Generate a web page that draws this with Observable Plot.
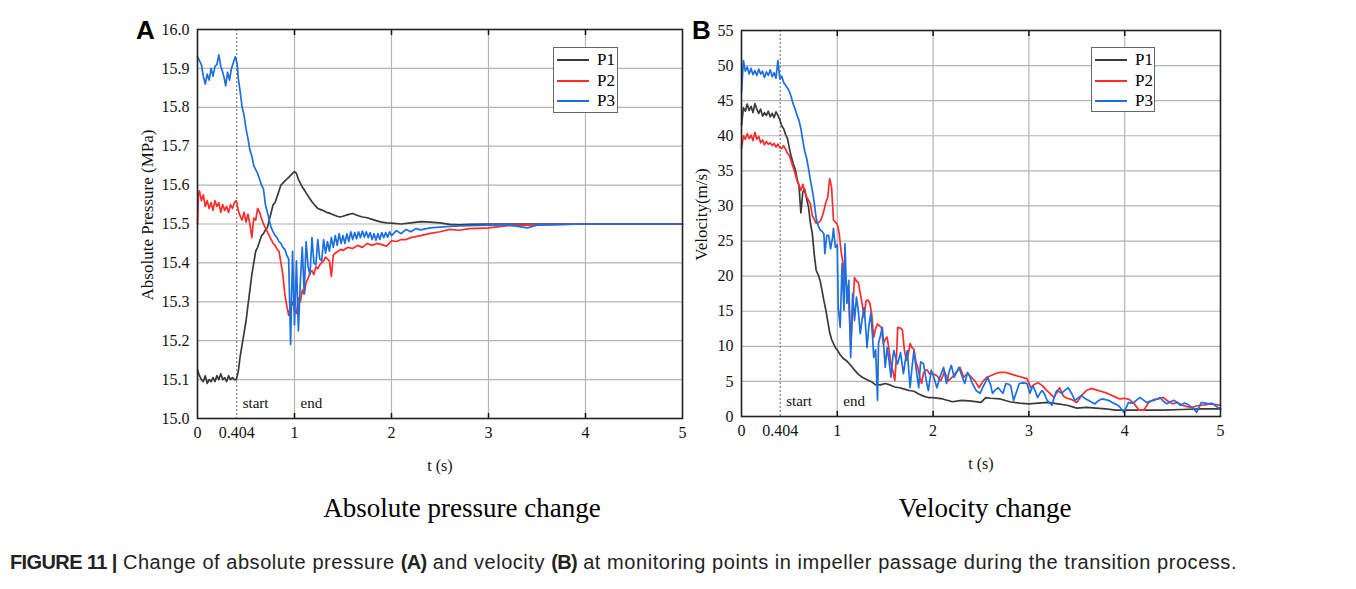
<!DOCTYPE html>
<html>
<head>
<meta charset="utf-8">
<script src="https://cdn.jsdelivr.net/npm/d3@7"></script>
<script src="https://cdn.jsdelivr.net/npm/@observablehq/plot@0.6"></script>
<style>
  html, body { margin: 0; padding: 0; background: #fff; }
  #page { position: relative; width: 1356px; height: 589px; overflow: hidden; font-family: "Liberation Serif", serif; }
  .abs { position: absolute; }
  .letter { font-family: "Liberation Sans", Arial, sans-serif; font-weight: bold; font-size: 26px; }
  .sub { font-family: "Liberation Serif", serif; font-size: 27px; text-align: center; width: 500px; }
  .legend { border: 1px solid #666; background: #fff; font-family: "Liberation Serif", serif; font-size: 17px; box-sizing: border-box; }
  .legend .row { position: absolute; left: 0; height: 20px; line-height: 20px; }
  .legend .sw { position: absolute; left: 3px; top: 9px; width: 32px; height: 0; border-top: 2px solid; }
  .legend .lab { position: absolute; left: 43px; top: 0; }
  .caption { font-family: "Liberation Sans", Arial, sans-serif; font-size: 20px; letter-spacing: 0.55px; color: #222; white-space: nowrap; }
  .caption b { letter-spacing: -0.6px; }
</style>
</head>
<body>
<div id="page">
  <div id="panelA" class="abs" style="left:0;top:0;"></div>
  <div id="panelB" class="abs" style="left:690px;top:0;"></div>
  <div class="abs letter" style="left:136px;top:15px;">A</div>
  <div class="abs letter" style="left:692px;top:15px;">B</div>
  <div class="abs sub" style="left:212px;top:493px;">Absolute pressure change</div>
  <div class="abs sub" style="left:735px;top:493px;">Velocity change</div>
  <div id="legendA" class="abs legend" style="left:553px;top:47px;width:65px;height:66px;"></div>
  <div id="legendB" class="abs legend" style="left:1091px;top:47px;width:64px;height:65px;"></div>
  <div class="abs caption" style="left:10px;top:551px;"><b>FIGURE 11 |</b> Change of absolute pressure <b>(A)</b> and velocity <b>(B)</b> at monitoring points in impeller passage during the transition process.</div>
</div>
<script>
// ---------------- data ----------------
const seriesNames = ["P1", "P2", "P3"];
const seriesColors = ["#3a3a3a", "#ff2b2b", "#1c6fe0"];

const xTickValues = [0, 0.404, 1, 2, 3, 4, 5];
const xTickLabels = ["0", "0.404", "1", "2", "3", "4", "5"];
const xGridValues = [1, 2, 3, 4];
const eventTimes = [0.404, 1];
const eventLabels = ["start", "end"];

const pressureTicks = [15.0, 15.1, 15.2, 15.3, 15.4, 15.5, 15.6, 15.7, 15.8, 15.9, 16.0];
const velocityTicks = [0, 5, 10, 15, 20, 25, 30, 35, 40, 45, 50, 55];

// Panel A – absolute pressure (MPa), [t (s), value]
const pressureP1 = [[0,15.125],[0.02,15.11],[0.04,15.1],[0.06,15.095],[0.08,15.11],[0.1,15.09],[0.12,15.1],[0.14,15.095],[0.16,15.105],[0.18,15.095],[0.2,15.11],[0.22,15.1],[0.24,15.115],[0.26,15.1],[0.28,15.105],[0.3,15.095],[0.32,15.11],[0.34,15.1],[0.36,15.105],[0.38,15.1],[0.4,15.1],[0.42,15.12],[0.44,15.16],[0.46,15.19],[0.48,15.22],[0.5,15.25],[0.52,15.29],[0.54,15.33],[0.56,15.37],[0.58,15.4],[0.6,15.43],[0.62,15.44],[0.64,15.455],[0.66,15.47],[0.68,15.475],[0.7,15.485],[0.72,15.49],[0.74,15.51],[0.76,15.53],[0.78,15.55],[0.8,15.555],[0.82,15.57],[0.84,15.585],[0.86,15.6],[0.88,15.605],[0.9,15.61],[0.92,15.615],[0.94,15.62],[0.96,15.625],[0.98,15.63],[1.0,15.635],[1.02,15.63],[1.04,15.615],[1.06,15.605],[1.08,15.595],[1.1,15.588],[1.12,15.58],[1.15,15.568],[1.18,15.557],[1.21,15.548],[1.24,15.54],[1.27,15.537],[1.3,15.534],[1.33,15.53],[1.36,15.528],[1.4,15.524],[1.44,15.52],[1.47,15.518],[1.5,15.52],[1.55,15.524],[1.6,15.527],[1.65,15.522],[1.7,15.518],[1.75,15.516],[1.8,15.512],[1.85,15.508],[1.9,15.505],[1.95,15.503],[2.0,15.502],[2.1,15.5],[2.2,15.503],[2.3,15.506],[2.4,15.505],[2.5,15.503],[2.6,15.499],[2.7,15.498],[2.8,15.499],[3.0,15.5],[3.5,15.5],[4.0,15.5],[4.5,15.5],[5.0,15.5]];
const pressureP2 = [[0,15.5],[0.01,15.58],[0.02,15.585],[0.04,15.56],[0.06,15.575],[0.08,15.545],[0.1,15.56],[0.12,15.54],[0.14,15.555],[0.16,15.535],[0.18,15.56],[0.2,15.545],[0.22,15.555],[0.24,15.53],[0.26,15.55],[0.28,15.535],[0.3,15.545],[0.32,15.53],[0.34,15.55],[0.36,15.54],[0.38,15.555],[0.4,15.56],[0.42,15.535],[0.44,15.52],[0.46,15.51],[0.48,15.53],[0.5,15.505],[0.52,15.525],[0.54,15.5],[0.56,15.465],[0.58,15.515],[0.6,15.51],[0.62,15.54],[0.64,15.53],[0.66,15.515],[0.68,15.5],[0.7,15.49],[0.72,15.48],[0.74,15.47],[0.76,15.46],[0.78,15.45],[0.8,15.445],[0.82,15.435],[0.84,15.43],[0.86,15.4],[0.88,15.37],[0.9,15.32],[0.92,15.29],[0.94,15.265],[0.96,15.29],[0.98,15.3],[1.0,15.28],[1.02,15.27],[1.04,15.31],[1.06,15.3],[1.08,15.33],[1.1,15.32],[1.12,15.35],[1.14,15.36],[1.16,15.375],[1.18,15.38],[1.2,15.37],[1.22,15.39],[1.24,15.385],[1.26,15.395],[1.28,15.4],[1.3,15.405],[1.32,15.415],[1.34,15.41],[1.36,15.405],[1.38,15.365],[1.4,15.42],[1.42,15.425],[1.45,15.43],[1.48,15.435],[1.5,15.432],[1.55,15.44],[1.6,15.437],[1.65,15.445],[1.7,15.44],[1.75,15.45],[1.8,15.445],[1.85,15.45],[1.9,15.447],[1.95,15.443],[2.0,15.457],[2.05,15.455],[2.1,15.46],[2.15,15.46],[2.2,15.465],[2.3,15.47],[2.4,15.476],[2.5,15.48],[2.6,15.486],[2.7,15.484],[2.8,15.488],[2.9,15.489],[3.0,15.49],[3.2,15.496],[3.5,15.498],[4.0,15.5],[4.5,15.5],[5.0,15.5]];
const pressureP3 = [[0,15.93],[0.02,15.92],[0.04,15.91],[0.06,15.88],[0.08,15.86],[0.1,15.885],[0.12,15.87],[0.14,15.9],[0.16,15.88],[0.18,15.905],[0.2,15.91],[0.22,15.935],[0.24,15.905],[0.26,15.89],[0.28,15.87],[0.29,15.855],[0.31,15.89],[0.33,15.87],[0.35,15.9],[0.37,15.915],[0.39,15.93],[0.41,15.91],[0.42,15.875],[0.44,15.84],[0.46,15.8],[0.48,15.78],[0.5,15.745],[0.52,15.72],[0.54,15.69],[0.56,15.675],[0.58,15.65],[0.6,15.64],[0.62,15.63],[0.64,15.615],[0.66,15.6],[0.68,15.59],[0.7,15.55],[0.72,15.53],[0.74,15.51],[0.76,15.49],[0.78,15.48],[0.8,15.47],[0.82,15.465],[0.84,15.455],[0.86,15.45],[0.88,15.44],[0.9,15.435],[0.92,15.42],[0.94,15.41],[0.96,15.19],[0.98,15.43],[1.0,15.24],[1.02,15.405],[1.04,15.225],[1.06,15.35],[1.08,15.44],[1.1,15.32],[1.12,15.455],[1.14,15.39],[1.16,15.37],[1.18,15.465],[1.2,15.4],[1.22,15.395],[1.24,15.46],[1.26,15.41],[1.28,15.405],[1.3,15.46],[1.32,15.425],[1.34,15.455],[1.36,15.43],[1.38,15.465],[1.4,15.44],[1.42,15.47],[1.44,15.445],[1.46,15.475],[1.48,15.45],[1.5,15.47],[1.52,15.45],[1.54,15.475],[1.56,15.455],[1.58,15.48],[1.6,15.46],[1.62,15.478],[1.64,15.462],[1.66,15.48],[1.68,15.465],[1.7,15.482],[1.72,15.466],[1.74,15.48],[1.76,15.465],[1.78,15.478],[1.8,15.46],[1.82,15.475],[1.84,15.458],[1.86,15.475],[1.88,15.46],[1.9,15.478],[1.92,15.465],[1.94,15.478],[1.96,15.466],[1.98,15.48],[2.0,15.47],[2.05,15.483],[2.1,15.475],[2.15,15.486],[2.2,15.48],[2.25,15.488],[2.3,15.485],[2.4,15.49],[2.5,15.492],[2.6,15.494],[2.7,15.495],[2.8,15.496],[3.0,15.497],[3.2,15.498],[3.4,15.49],[3.5,15.497],[3.8,15.499],[4.0,15.5],[4.5,15.5],[5.0,15.5]];

// Panel B – velocity (m/s), [t (s), value]
const velocityP1 = [[0,41.5],[0.02,44],[0.04,43.5],[0.06,44.5],[0.08,43.6],[0.1,44.2],[0.12,43.3],[0.14,44.6],[0.16,43.8],[0.18,43.2],[0.2,43.8],[0.22,42.8],[0.24,43.3],[0.26,42.9],[0.28,43.5],[0.3,42.7],[0.32,43.2],[0.34,42.6],[0.36,43.4],[0.38,42.9],[0.4,42.3],[0.42,41.4],[0.44,41],[0.46,40.2],[0.48,39.6],[0.5,38.2],[0.52,37],[0.54,36],[0.56,35.3],[0.58,33.9],[0.6,32.8],[0.62,29],[0.64,32],[0.66,32.4],[0.68,31],[0.7,29.8],[0.72,27.5],[0.74,26],[0.76,23],[0.78,20.8],[0.8,20.2],[0.82,19.4],[0.84,18],[0.86,16.5],[0.88,15.2],[0.9,13.6],[0.92,12],[0.94,11],[0.96,10.4],[0.98,9.8],[1.0,9.5],[1.03,8.8],[1.06,8.3],[1.1,7.9],[1.14,7.3],[1.18,6.6],[1.22,6.0],[1.26,5.6],[1.3,5.3],[1.35,5.0],[1.4,4.5],[1.45,4.5],[1.5,4.7],[1.55,4.5],[1.6,4.2],[1.65,4.1],[1.7,3.9],[1.75,3.7],[1.8,3.6],[1.85,3.2],[1.9,2.9],[1.95,2.7],[2.0,2.7],[2.1,2.5],[2.2,2.1],[2.3,2.3],[2.4,2.2],[2.5,2.0],[2.55,2.7],[2.6,2.6],[2.7,2.5],[2.8,2.1],[2.9,1.9],[3.0,1.8],[3.1,1.9],[3.2,2.0],[3.3,1.8],[3.4,1.6],[3.5,1.2],[3.6,1.3],[3.7,1.2],[3.8,1.1],[3.9,0.9],[4.0,0.9],[4.2,0.9],[4.4,0.9],[4.6,1.0],[4.8,1.1],[5.0,1.1]];
const velocityP2 = [[0,38.2],[0.02,40],[0.04,39.5],[0.06,40.3],[0.08,39.6],[0.1,40.1],[0.12,39.3],[0.14,40.5],[0.16,39.5],[0.18,39.9],[0.2,39.0],[0.22,39.4],[0.24,38.7],[0.26,39.2],[0.28,38.8],[0.3,39.0],[0.32,38.6],[0.34,38.9],[0.36,38.4],[0.38,38.8],[0.4,38.3],[0.42,38.2],[0.44,38.6],[0.46,38.1],[0.48,37.5],[0.5,37.2],[0.52,36.3],[0.54,35.5],[0.56,34.6],[0.58,33.6],[0.6,33.0],[0.62,32.2],[0.64,33.1],[0.66,32.0],[0.68,31.3],[0.7,30.8],[0.72,30.3],[0.74,28.6],[0.76,28.1],[0.78,27.5],[0.8,27.6],[0.82,27.8],[0.84,28.4],[0.86,29.3],[0.88,30.5],[0.9,31.2],[0.92,33.9],[0.94,32.7],[0.96,28],[0.98,27.7],[1.0,27.4],[1.02,26.1],[1.04,23.5],[1.06,21.8],[1.08,19.4],[1.1,18.5],[1.12,16.5],[1.14,9.8],[1.16,15.1],[1.18,19.8],[1.2,19.3],[1.22,19.1],[1.24,17.5],[1.26,16.0],[1.28,14.1],[1.3,16.5],[1.32,16.6],[1.34,16.1],[1.36,14.5],[1.38,11.3],[1.4,12.5],[1.42,13.2],[1.44,12.9],[1.46,12.7],[1.48,10.4],[1.5,11.0],[1.52,11.3],[1.54,9.5],[1.56,7.5],[1.58,6.5],[1.6,5.1],[1.62,9],[1.63,12.7],[1.66,12.6],[1.68,12.3],[1.7,9.5],[1.72,8.0],[1.74,8.8],[1.76,10.4],[1.78,9.8],[1.8,9.6],[1.82,7.8],[1.84,7.0],[1.86,5.6],[1.88,4.7],[1.9,6.2],[1.92,6.6],[1.94,6.6],[1.96,6.1],[2.0,6.1],[2.04,5.8],[2.08,5.1],[2.12,6.4],[2.16,5.1],[2.2,5.6],[2.24,6.3],[2.28,7.0],[2.32,5.6],[2.36,6.1],[2.4,5.6],[2.44,5.0],[2.48,4.1],[2.52,5.0],[2.56,5.6],[2.6,5.8],[2.65,6.1],[2.7,6.3],[2.75,6.3],[2.8,6.1],[2.85,5.9],[2.9,5.7],[2.95,5.5],[2.98,5.4],[3.02,4.1],[3.06,4.6],[3.1,4.8],[3.14,4.4],[3.18,3.8],[3.22,3.3],[3.26,2.7],[3.3,3.6],[3.32,4.1],[3.36,2.9],[3.4,2.6],[3.45,2.4],[3.5,2.0],[3.55,3.0],[3.6,3.7],[3.65,4.0],[3.7,3.8],[3.75,3.6],[3.8,3.4],[3.85,3.1],[3.9,2.8],[3.95,2.5],[4.0,2.6],[4.05,2.4],[4.1,1.8],[4.15,0.9],[4.2,0.9],[4.25,2.0],[4.3,2.4],[4.35,2.5],[4.4,2.7],[4.45,2.2],[4.5,1.8],[4.55,2.0],[4.6,1.6],[4.65,1.4],[4.7,1.3],[4.75,1.5],[4.8,1.6],[4.85,1.7],[4.9,1.8],[4.95,1.7],[5.0,1.6]];
const velocityP3 = [[0,46.2],[0.02,50.7],[0.04,49.2],[0.06,49.8],[0.08,48.8],[0.1,49.6],[0.12,48.7],[0.14,49.3],[0.16,48.6],[0.18,49.5],[0.2,48.8],[0.22,49.2],[0.24,48.3],[0.26,49.1],[0.28,48.6],[0.3,49.4],[0.32,48.4],[0.34,49.0],[0.36,48.2],[0.38,50.7],[0.4,48.1],[0.42,48.5],[0.44,47.6],[0.46,47.2],[0.48,46.8],[0.5,46.3],[0.52,45.5],[0.54,44.5],[0.56,43.8],[0.58,42.9],[0.6,42.2],[0.62,41.0],[0.64,39.3],[0.66,37.8],[0.68,36.8],[0.7,35.3],[0.72,33.6],[0.74,32.2],[0.76,30.4],[0.78,28.2],[0.8,27.2],[0.82,26.6],[0.84,26.4],[0.86,26.0],[0.87,23.2],[0.89,25.8],[0.91,25.8],[0.93,23.9],[0.95,25.5],[0.96,26.8],[0.98,24.1],[1.0,24.5],[1.01,15.5],[1.03,12.7],[1.05,21.8],[1.07,15.1],[1.08,24.6],[1.1,16.1],[1.12,19.4],[1.14,8.4],[1.16,17.5],[1.18,13.7],[1.2,17.0],[1.22,15],[1.24,11.8],[1.26,14],[1.28,15.5],[1.3,12],[1.31,9.8],[1.33,13],[1.35,14.7],[1.37,11],[1.38,8.4],[1.4,9.5],[1.42,2.3],[1.43,10.4],[1.45,11.5],[1.47,12.7],[1.49,9],[1.5,7.0],[1.52,9.8],[1.54,8],[1.56,5.6],[1.58,8.5],[1.59,9.4],[1.61,8.3],[1.63,7.5],[1.66,9.1],[1.69,6.1],[1.71,8],[1.73,9.4],[1.76,4.1],[1.78,7],[1.8,9.4],[1.83,6],[1.85,4.1],[1.87,7.8],[1.9,7.5],[1.93,5],[1.95,3.7],[1.98,6.6],[2.01,5.5],[2.04,4.1],[2.07,5.6],[2.11,7.0],[2.14,4.7],[2.17,6.5],[2.19,7.3],[2.22,5.6],[2.25,6.4],[2.27,7.0],[2.3,5.8],[2.33,4.7],[2.36,6.3],[2.38,5.8],[2.41,4.7],[2.45,3.7],[2.49,3.3],[2.52,4.2],[2.54,4.7],[2.57,5.6],[2.6,4.5],[2.62,3.3],[2.65,3.8],[2.68,4.1],[2.71,3.6],[2.73,3.3],[2.76,4.7],[2.79,4.6],[2.81,4.4],[2.84,2.3],[2.87,3.5],[2.9,4.7],[2.94,4.8],[2.98,4.7],[3.01,3.3],[3.04,4.4],[3.07,3.5],[3.09,2.7],[3.12,3.4],[3.14,3.7],[3.17,3.0],[3.19,2.3],[3.22,1.9],[3.24,1.6],[3.27,3.0],[3.29,3.7],[3.32,3.5],[3.34,3.3],[3.38,3.8],[3.41,4.1],[3.45,3.2],[3.48,2.3],[3.51,2.6],[3.55,3.0],[3.58,2.6],[3.62,2.3],[3.66,2.0],[3.69,1.8],[3.72,2.2],[3.76,2.5],[3.8,2.4],[3.83,2.3],[3.87,2.0],[3.9,1.8],[3.94,1.5],[3.97,1.0],[3.99,0.6],[4.02,1.4],[4.04,2.0],[4.07,1.9],[4.09,1.9],[4.12,2.3],[4.16,2.7],[4.2,2.3],[4.23,2.0],[4.27,2.2],[4.3,2.3],[4.34,2.5],[4.37,2.7],[4.4,2.2],[4.44,1.8],[4.48,2.1],[4.51,2.3],[4.55,2.0],[4.58,1.6],[4.62,1.9],[4.65,1.8],[4.69,1.4],[4.72,1.1],[4.75,0.6],[4.78,1.4],[4.8,2.0],[4.84,1.9],[4.88,1.8],[4.91,1.9],[4.94,1.6],[4.97,1.3],[5.0,1.1]];

// ---------------- build ----------------
function toRows(lists) {
  const rows = [];
  lists.forEach((list, i) => list.forEach(([t, v]) => rows.push({t, v, series: seriesNames[i]})));
  return rows;
}
const events = eventTimes.map((t, i) => ({t, label: eventLabels[i]}));
const fmtX = d => xTickLabels[xTickValues.indexOf(d)];

function panel({rows, width, height, margins, yDomain, yTicks, yFormat, yLabel, yLabelDx, yLabelDy}) {
  return Plot.plot({
    width, height,
    marginLeft: margins[0], marginRight: margins[1], marginTop: margins[2], marginBottom: margins[3],
    style: {fontFamily: "'Liberation Serif', 'Times New Roman', serif", fontSize: "16px", color: "#111", background: "transparent", overflow: "visible"},
    x: {domain: [0, 5]},
    y: {domain: yDomain},
    color: {domain: seriesNames, range: seriesColors},
    marks: [
      Plot.gridY(yTicks, {stroke: "#b4b4b4", strokeOpacity: 1, strokeWidth: 1.2}),
      Plot.gridX(xGridValues, {stroke: "#b4b4b4", strokeOpacity: 1, strokeWidth: 1.2}),
      Plot.ruleX([eventTimes[0]], {stroke: "#666", strokeDasharray: "2,2", strokeWidth: 1}),
      Plot.line(rows, {x: "t", y: "v", z: "series", stroke: "series", strokeWidth: 1.7, curve: "linear"}),
      Plot.axisX(xGridValues, {anchor: "bottom", tickSize: -5, tickFormat: () => "", label: null, strokeWidth: 1.5}),
      Plot.axisX(xGridValues, {anchor: "top", tickSize: -5, tickFormat: () => "", label: null, strokeWidth: 1.5}),
      Plot.axisX(xTickValues, {anchor: "bottom", tickSize: 0, tickPadding: 8, tickFormat: fmtX, label: "t (s)", labelAnchor: "center", labelOffset: 52, labelArrow: "none", fontSize: 16}),
      Plot.axisY(yTicks, {anchor: "left", tickSize: 0, tickPadding: 8, tickFormat: yFormat, label: null, fontSize: 16}),
      Plot.text([yLabel], {frameAnchor: "left", rotate: -90, dx: yLabelDx, dy: yLabelDy, textAnchor: "middle", fontSize: 17}),
      Plot.text(events, {x: "t", text: "label", frameAnchor: "bottom", dy: -11, dx: 6, textAnchor: "start", fontSize: 15}),
      Plot.frame({stroke: "#222", strokeWidth: 1.6})
    ]
  });
}

const chartA = panel({
  rows: toRows([pressureP1, pressureP2, pressureP3]),
  width: 700, height: 480, margins: [197, 18, 29, 62],
  yDomain: [15.0, 16.0], yTicks: pressureTicks, yFormat: d3.format(".1f"),
  yLabel: "Absolute Pressure (MPa)", yLabelDx: -50, yLabelDy: -9
});
const chartB = panel({
  rows: toRows([velocityP1, velocityP2, velocityP3]),
  width: 560, height: 480, margins: [51, 30, 30, 64],
  yDomain: [0, 55], yTicks: velocityTicks, yFormat: d3.format("d"),
  yLabel: "Velocity(m/s)", yLabelDx: -40, yLabelDy: -9
});
document.getElementById("panelA").appendChild(chartA);
document.getElementById("panelB").appendChild(chartB);

// legends (HTML)
function legend(id) {
  const el = document.getElementById(id);
  seriesNames.forEach((name, i) => {
    const row = document.createElement("div");
    row.className = "row";
    row.style.top = (i * 20.5 + 2) + "px";
    row.style.width = "100%";
    row.innerHTML = `<div class="sw" style="border-top-color:${seriesColors[i]}"></div><div class="lab">${name}</div>`;
    el.appendChild(row);
  });
}
legend("legendA");
legend("legendB");
</script>
</body>
</html>
